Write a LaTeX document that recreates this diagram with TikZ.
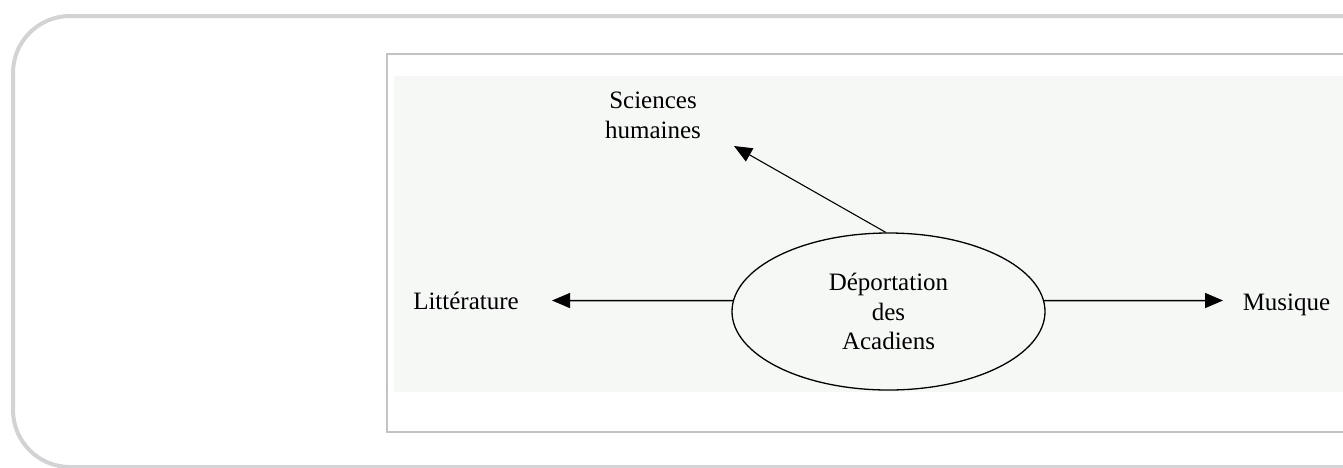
\documentclass[tikz,border=0pt]{standalone}
\usepackage{fontspec}
\setmainfont{Liberation Serif}
\usetikzlibrary{shapes.geometric,arrows.meta}
\definecolor{outerc}{HTML}{D3D3D5}
\definecolor{innerc}{HTML}{C3C3C7}
\definecolor{panel}{HTML}{F6F8F6}
\begin{document}
\begin{tikzpicture}[x=1pt,y=-1pt,
  lbl/.style={font=\fontsize{25}{29.5}\selectfont, inner sep=0pt, align=center},
  arr/.style={-{Triangle[length=18pt,width=15pt]}, line width=1.5pt},
  ellbox/.style={ellipse, draw, line width=1.3pt, minimum width=313pt, minimum height=157pt, inner sep=0pt}]
\useasboundingbox (0,0) rectangle (1343,467);
\clip (0,0) rectangle (1343,467);
\fill[white] (0,0) rectangle (1343,467);
\draw[outerc, line width=4pt, rounded corners=57pt] (13,16) rectangle (1420,467);
\draw[innerc, line width=2pt] (387,53.5) rectangle (1420,432.3);
\fill[panel] (394,76) rectangle (1343,392);
\node[ellbox, lbl] (ell) at (888.5,311.5) {Déportation\\des\\Acadiens};
\node[lbl, anchor=base] (sh) at (653,138) {Sciences\\humaines};
\node[lbl, anchor=base] (lit) at (466,309) {Littérature};
\node[lbl, anchor=base] (mus) at (1286.5,310) {Musique};
\coordinate (shtip) at (734,146);
\coordinate (littip) at (552,300.5);
\coordinate (mustip) at (1223,300.5);
\draw[arr, line width=1.1pt] (ell.92) -- (shtip);
\draw[arr] (ell.176) -- (littip);
\draw[arr] (ell.4) -- (mustip);
\end{tikzpicture}
\end{document}
